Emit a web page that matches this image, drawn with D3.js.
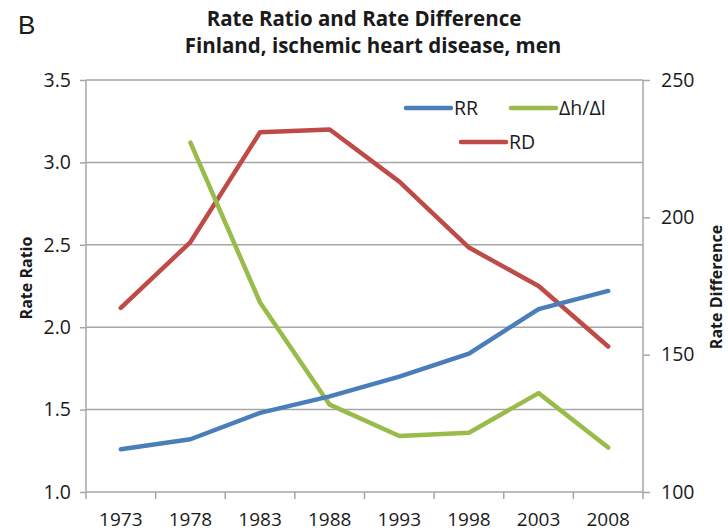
<!DOCTYPE html>
<html>
<head>
<meta charset="utf-8">
<script src="https://cdn.jsdelivr.net/npm/d3@7"></script>
<style>
  body { margin: 0; background: #fff; }
  svg { display: block; font-family: "Open Sans", sans-serif; }
</style>
</head>
<body>
<div id="chart"></div>
<script>
// data
var years = ["1973", "1978", "1983", "1988", "1993", "1998", "2003", "2008"];
var rr    = [1.26, 1.32, 1.48, 1.58, 1.70, 1.84, 2.11, 2.22];
var dhdl  = [null, 3.12, 2.15, 1.53, 1.34, 1.36, 1.60, 1.27];
var rd    = [167, 191, 231, 232, 213, 189, 175, 153];

var leftTicks  = [1.0, 1.5, 2.0, 2.5, 3.0, 3.5];
var rightTicks = [100, 150, 200, 250];

var width = 728, height = 532;
var margin = {top: 80, left: 86, right: 85, bottom: 40};

var svg = d3.select("#chart").append("svg")
    .attr("width", width)
    .attr("height", height);

var x = d3.scaleBand().domain(years)
    .range([margin.left, width - margin.right]).padding(0);
var yL = d3.scaleLinear().domain([1.0, 3.5])
    .range([height - margin.bottom, margin.top]);
var yR = d3.scaleLinear().domain([100, 250])
    .range([height - margin.bottom, margin.top]);

var gray = "#a6a6a6";
var ink = "#1a1a1a";
var x0 = margin.left, x1 = width - margin.right;

//////////// GRID ////////////
svg.append("g").selectAll("line")
    .data(leftTicks.slice(1))
    .enter().append("line")
    .attr("x1", x0).attr("x2", x1)
    .attr("y1", function(d) { return yL(d); })
    .attr("y2", function(d) { return yL(d); })
    .attr("stroke", gray).attr("stroke-width", 1.5);

//////////// AXES ////////////
var axisL = svg.append("g").attr("transform", "translate(" + x0 + ",0)")
    .call(d3.axisLeft(yL).tickValues(leftTicks).tickFormat(d3.format(".1f")).tickSize(6).tickPadding(9));
var axisR = svg.append("g").attr("transform", "translate(" + x1 + ",0)")
    .call(d3.axisRight(yR).tickValues(rightTicks).tickSize(7).tickPadding(11));

[axisL, axisR].forEach(function(a) {
  a.select(".domain").remove();
  a.selectAll("line").attr("stroke", gray).attr("stroke-width", 1.5);
  a.selectAll("text").attr("font-size", 19.5).attr("fill", ink)
      .attr("font-family", "Open Sans, sans-serif");
});

var yBase = yL(1.0);
// vertical axis lines, running a bit below the baseline
svg.append("line").attr("x1", x0).attr("x2", x0)
    .attr("y1", margin.top).attr("y2", yBase + 7)
    .attr("stroke", gray).attr("stroke-width", 1.5);
svg.append("line").attr("x1", x1).attr("x2", x1)
    .attr("y1", margin.top).attr("y2", yBase + 7)
    .attr("stroke", gray).attr("stroke-width", 1.5);
// baseline
svg.append("line").attr("x1", x0).attr("x2", x1)
    .attr("y1", yBase).attr("y2", yBase)
    .attr("stroke", gray).attr("stroke-width", 1.5);
// category boundary ticks
svg.append("g").selectAll("line")
    .data(years.slice(1))
    .enter().append("line")
    .attr("x1", function(d) { return x(d); })
    .attr("x2", function(d) { return x(d); })
    .attr("y1", yBase).attr("y2", yBase + 7)
    .attr("stroke", gray).attr("stroke-width", 1.5);
// category labels
svg.append("g").selectAll("text")
    .data(years)
    .enter().append("text")
    .attr("x", function(d) { return x(d) + x.bandwidth() / 2; })
    .attr("y", yBase + 34)
    .attr("text-anchor", "middle")
    .attr("font-size", 19).attr("fill", ink)
    .text(function(d) { return d; });

//////////// LINES ////////////
var cx = function(d, i) { return x(years[i]) + x.bandwidth() / 2; };

function drawLine(values, scale, color) {
  var line = d3.line()
      .defined(function(d) { return d != null; })
      .x(cx)
      .y(function(d) { return scale(d); });
  svg.append("path")
      .datum(values)
      .attr("fill", "none")
      .attr("stroke", color)
      .attr("stroke-width", 4.5)
      .attr("stroke-linejoin", "round")
      .attr("stroke-linecap", "round")
      .attr("d", line);
}

var colors = {rr: "#4a7ebb", dhdl: "#98bb4a", rd: "#be4b48"};
drawLine(rd, yR, colors.rd);
drawLine(dhdl, yL, colors.dhdl);
drawLine(rr, yL, colors.rr);

//////////// LEGEND ////////////
var legend = [
  {label: "RR", color: colors.rr, x: 406, y: 108},
  {label: "\u0394h/\u0394l", color: colors.dhdl, x: 511, y: 108},
  {label: "RD", color: colors.rd, x: 461, y: 142}
];
var lg = svg.append("g").selectAll("g").data(legend).enter().append("g")
    .attr("transform", function(d) { return "translate(" + d.x + "," + d.y + ")"; });
lg.append("line").attr("x1", 0).attr("x2", 45)
    .attr("stroke", function(d) { return d.color; })
    .attr("stroke-width", 4.5).attr("stroke-linecap", "round");
lg.append("text").attr("x", 48).attr("dy", "0.35em")
    .attr("font-size", 19.5).attr("fill", ink)
    .text(function(d) { return d.label; });

//////////// TITLES ////////////
svg.append("text").attr("x", 18).attr("y", 34)
    .attr("font-family", "Liberation Sans, Arial, sans-serif")
    .attr("font-size", 26).attr("fill", ink).text("B");

svg.append("text").attr("x", 364).attr("y", 26)
    .attr("text-anchor", "middle").attr("font-weight", "bold")
    .attr("font-size", 20.5).attr("fill", ink)
    .text("Rate Ratio and Rate Difference");
svg.append("text").attr("x", 373).attr("y", 53)
    .attr("text-anchor", "middle").attr("font-weight", "bold")
    .attr("font-size", 20.5).attr("fill", ink)
    .text("Finland, ischemic heart disease, men");

svg.append("text")
    .attr("transform", "translate(32,278) rotate(-90)")
    .attr("text-anchor", "middle").attr("font-weight", "bold")
    .attr("font-size", 16).attr("fill", ink)
    .text("Rate Ratio");
svg.append("text")
    .attr("transform", "translate(722,287) rotate(-90)")
    .attr("text-anchor", "middle").attr("font-weight", "bold")
    .attr("font-size", 16).attr("fill", ink)
    .text("Rate Difference");
</script>
</body>
</html>
